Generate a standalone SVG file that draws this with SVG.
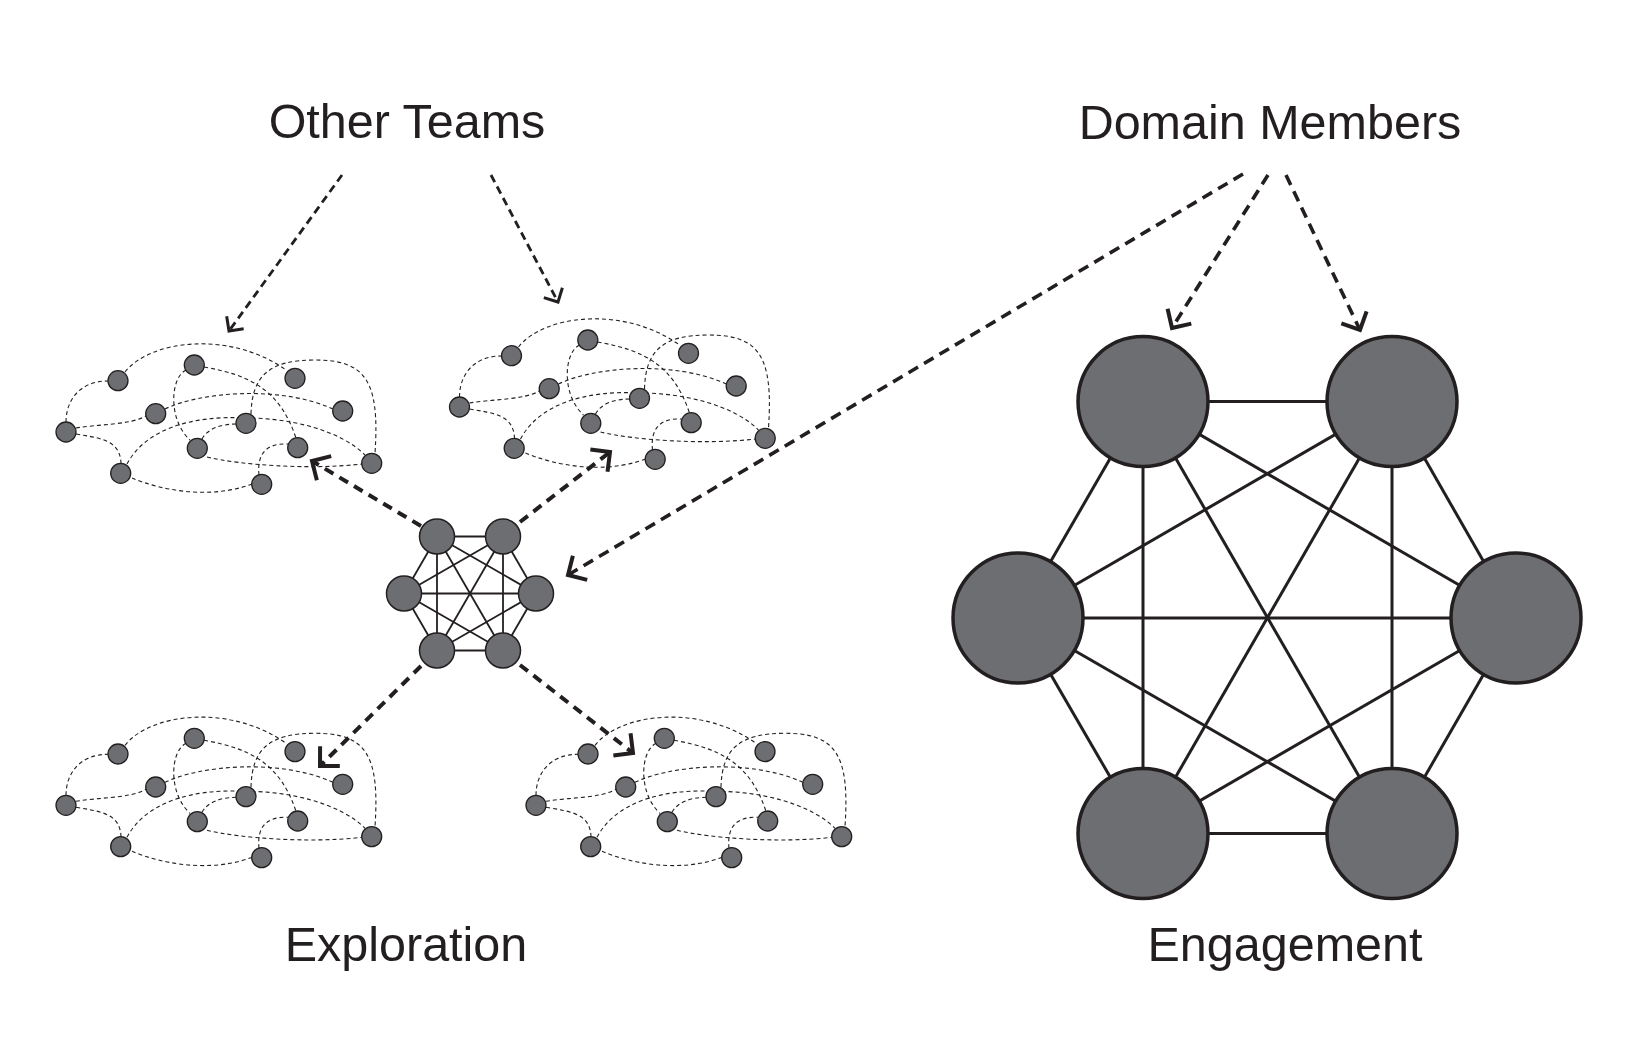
<svg xmlns="http://www.w3.org/2000/svg" xmlns:xlink="http://www.w3.org/1999/xlink" width="1644" height="1062" viewBox="0 0 1644 1062">
<style>
.lbl{font-family:"Liberation Sans",Arial,sans-serif;font-size:48.5px;fill:#231f20;text-anchor:middle}
.cn{fill:#6d6e71;stroke:#231f20;stroke-width:1.3}
.ce{fill:none;stroke:#231f20;stroke-width:1.1;stroke-dasharray:4 3}
.hn{fill:#6d6e71;stroke:#231f20;stroke-width:1.5}
.hl{stroke:#231f20;stroke-width:1.8}
.bn{fill:#6d6e71;stroke:#231f20;stroke-width:3.5}
.bl{stroke:#231f20;stroke-width:3}
.aThin{fill:none;stroke:#231f20;stroke-width:2.8;stroke-dasharray:8 5;marker-end:url(#chevS)}
.aMid{fill:none;stroke:#231f20;stroke-width:3.6;stroke-dasharray:11 7;marker-end:url(#chevB)}
.aHub{fill:none;stroke:#231f20;stroke-width:4;stroke-dasharray:10 7;marker-end:url(#chevB)}
</style>
<defs>
<marker id="chevS" markerUnits="userSpaceOnUse" markerWidth="40" markerHeight="40" viewBox="-20 -20 40 40" refX="0" refY="0" orient="auto">
<path d="M-10.5,-10.5 L0,0 L-10.5,10.5" fill="none" stroke="#231f20" stroke-width="3" stroke-dasharray="none"/>
</marker>
<marker id="chevB" markerUnits="userSpaceOnUse" markerWidth="40" markerHeight="40" viewBox="-20 -20 40 40" refX="0" refY="0" orient="auto">
<path d="M-14,-14 L0,0 L-14,14" fill="none" stroke="#231f20" stroke-width="4" stroke-dasharray="none"/>
</marker>
<g id="cluster">
<g class="ce">
<path d="M66,422 C66,400 80,381 108,381"/>
<path d="M125,372 C150,340 230,330 286,370"/>
<path d="M204,367 C250,375 280,390 296,438"/>
<path d="M186,370 C170,378 168,420 190,440"/>
<path d="M165,409 C200,392 280,385 333,409"/>
<path d="M76,428 C100,424 130,425 146,416"/>
<path d="M76,434 C100,438 120,440 121,463"/>
<path d="M127,464 C145,430 190,415 246,418 C290,418 340,430 365,455"/>
<path d="M202,439 C208,428 222,424 237,424"/>
<path d="M251,414 C252,375 270,360 315,360 C365,360 380,380 375,453"/>
<path d="M207,457 C240,465 310,470 362,464"/>
<path d="M132,478 C160,490 210,500 252,484"/>
<path d="M259,475 C257,455 265,443 288,444"/>
</g>
<g>
<circle class="cn" cx="66" cy="432" r="10"/>
<circle class="cn" cx="118" cy="380.7" r="10"/>
<circle class="cn" cx="194.3" cy="365" r="10"/>
<circle class="cn" cx="295" cy="378.3" r="10"/>
<circle class="cn" cx="155.7" cy="413.7" r="10"/>
<circle class="cn" cx="342.7" cy="411" r="10"/>
<circle class="cn" cx="246" cy="423.3" r="10"/>
<circle class="cn" cx="197.3" cy="448.3" r="10"/>
<circle class="cn" cx="297.7" cy="447.7" r="10"/>
<circle class="cn" cx="371.7" cy="463.3" r="10"/>
<circle class="cn" cx="120.7" cy="473.3" r="10"/>
<circle class="cn" cx="261.7" cy="484.3" r="10"/>
</g>
</g>
</defs>
<rect width="1644" height="1062" fill="#ffffff"/>

<g id="label-other-teams"><text class="lbl" x="407" y="138">Other Teams</text></g>
<g id="label-domain-members"><text class="lbl" x="1270" y="139">Domain Members</text></g>
<g id="label-exploration"><text class="lbl" x="406" y="961">Exploration</text></g>
<g id="label-engagement"><text class="lbl" x="1285" y="961">Engagement</text></g>

<g id="cluster-top-left"><use href="#cluster" xlink:href="#cluster"/></g>
<g id="cluster-top-right"><use href="#cluster" xlink:href="#cluster" transform="translate(393.5,-25)"/></g>
<g id="cluster-bottom-left"><use href="#cluster" xlink:href="#cluster" transform="translate(0,373.3)"/></g>
<g id="cluster-bottom-right"><use href="#cluster" xlink:href="#cluster" transform="translate(470,373.3)"/></g>

<g id="core-team">
<g class="hl">
<line x1="437" y1="536.5" x2="503" y2="536.5"/>
<line x1="437" y1="536.5" x2="404" y2="593.5"/>
<line x1="437" y1="536.5" x2="536" y2="593.5"/>
<line x1="437" y1="536.5" x2="437" y2="650.5"/>
<line x1="437" y1="536.5" x2="503" y2="650.5"/>
<line x1="503" y1="536.5" x2="404" y2="593.5"/>
<line x1="503" y1="536.5" x2="536" y2="593.5"/>
<line x1="503" y1="536.5" x2="437" y2="650.5"/>
<line x1="503" y1="536.5" x2="503" y2="650.5"/>
<line x1="404" y1="593.5" x2="536" y2="593.5"/>
<line x1="404" y1="593.5" x2="437" y2="650.5"/>
<line x1="404" y1="593.5" x2="503" y2="650.5"/>
<line x1="536" y1="593.5" x2="437" y2="650.5"/>
<line x1="536" y1="593.5" x2="503" y2="650.5"/>
<line x1="437" y1="650.5" x2="503" y2="650.5"/>
</g>
<circle class="hn" cx="437" cy="536.5" r="17.5"/>
<circle class="hn" cx="503" cy="536.5" r="17.5"/>
<circle class="hn" cx="404" cy="593.5" r="17.5"/>
<circle class="hn" cx="536" cy="593.5" r="17.5"/>
<circle class="hn" cx="437" cy="650.5" r="17.5"/>
<circle class="hn" cx="503" cy="650.5" r="17.5"/>
</g>

<g id="engaged-team">
<g class="bl">
<line x1="1143" y1="401.6" x2="1392" y2="401.6"/>
<line x1="1143" y1="401.6" x2="1018" y2="618"/>
<line x1="1143" y1="401.6" x2="1516" y2="618"/>
<line x1="1143" y1="401.6" x2="1143" y2="833.6"/>
<line x1="1143" y1="401.6" x2="1392" y2="833.6"/>
<line x1="1392" y1="401.6" x2="1018" y2="618"/>
<line x1="1392" y1="401.6" x2="1516" y2="618"/>
<line x1="1392" y1="401.6" x2="1143" y2="833.6"/>
<line x1="1392" y1="401.6" x2="1392" y2="833.6"/>
<line x1="1018" y1="618" x2="1516" y2="618"/>
<line x1="1018" y1="618" x2="1143" y2="833.6"/>
<line x1="1018" y1="618" x2="1392" y2="833.6"/>
<line x1="1516" y1="618" x2="1143" y2="833.6"/>
<line x1="1516" y1="618" x2="1392" y2="833.6"/>
<line x1="1143" y1="833.6" x2="1392" y2="833.6"/>
</g>
<circle class="bn" cx="1143" cy="401.6" r="65"/>
<circle class="bn" cx="1392" cy="401.6" r="65"/>
<circle class="bn" cx="1018" cy="618" r="65"/>
<circle class="bn" cx="1516" cy="618" r="65"/>
<circle class="bn" cx="1143" cy="833.6" r="65"/>
<circle class="bn" cx="1392" cy="833.6" r="65"/>
</g>

<g id="connectors">
<path class="aThin" d="M342,175 L229,331"/>
<path class="aThin" d="M491,175 L558,302"/>
<path class="aMid" d="M1243,174 L568,575"/>
<path class="aMid" d="M1268,175 L1172,328"/>
<path class="aMid" d="M1286,175 L1360,330"/>
<path class="aHub" d="M421,526 L312,461"/>
<path class="aHub" d="M520,522 L610,452"/>
<path class="aHub" d="M421,666 L320,766"/>
<path class="aHub" d="M520,665 L633,753"/>
</g>
</svg>
